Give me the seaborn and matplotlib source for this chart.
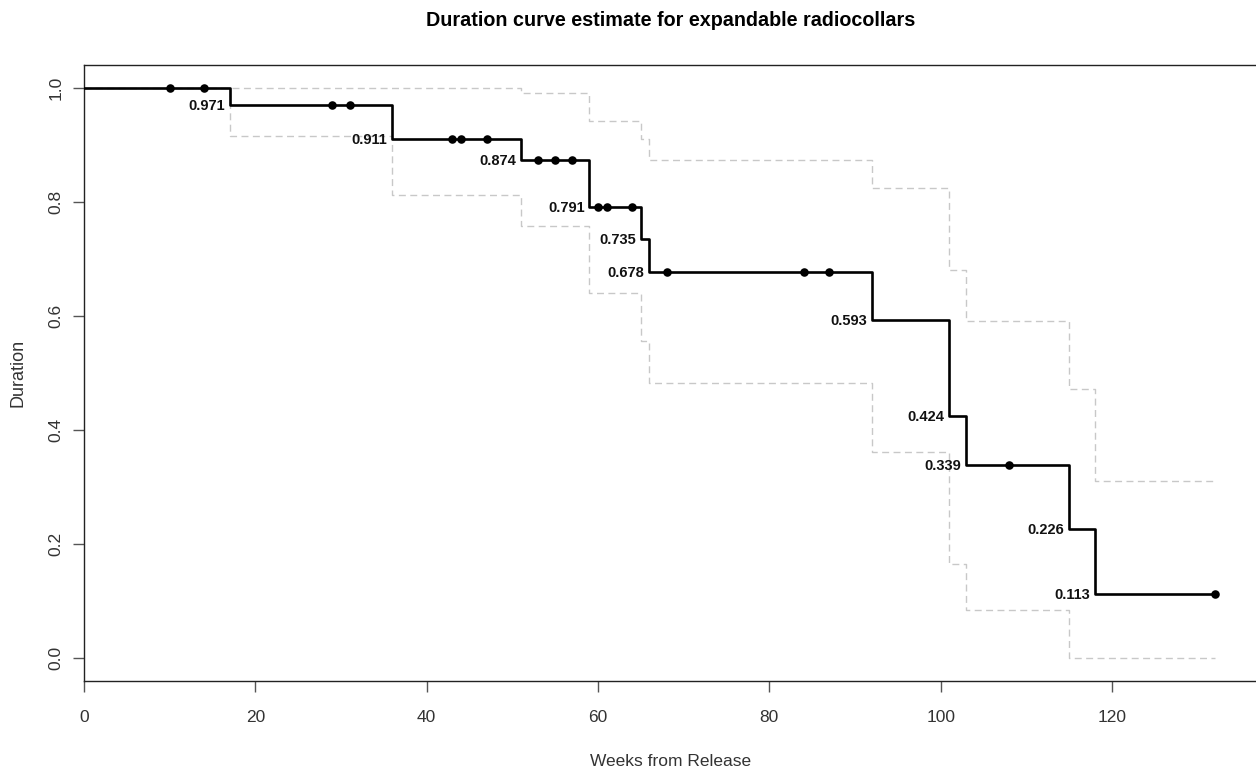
import numpy as np
import pandas as pd
import matplotlib
matplotlib.use("Agg")
import matplotlib.pyplot as plt
import seaborn as sns

# ---- data ----
event_times = [0, 17, 36, 51, 59, 65, 66, 92, 101, 103, 115, 118]
survival    = [1.0, 0.971, 0.911, 0.874, 0.791, 0.735, 0.678, 0.593, 0.424, 0.339, 0.226, 0.113]
upper_ci    = [1.0, 1.0, 1.0, 0.991, 0.943, 0.910, 0.873, 0.824, 0.681, 0.592, 0.472, 0.311]
lower_ci    = [1.0, 0.916, 0.813, 0.758, 0.640, 0.557, 0.482, 0.361, 0.165, 0.084, 0.0, 0.0]
end_time = 132
censor_times = [10, 14, 29, 31, 43, 44, 47, 53, 55, 57, 60, 61, 64, 68, 84, 87, 108, 132]
x_ticks = [0, 20, 40, 60, 80, 100, 120]
y_ticks = [0.0, 0.2, 0.4, 0.6, 0.8, 1.0]
title = "Duration curve estimate for expandable radiocollars"
xlabel = "Weeks from Release"
ylabel = "Duration"

sns.set_theme(style="white")
plt.rcParams["font.family"] = ["Liberation Sans", "DejaVu Sans"]

W, H = 1256, 773
fig = plt.figure(figsize=(W / 100, H / 100), dpi=100)
left_px, top_px, bottom_px = 84, 65, 681
xmax = 137.0
px_per_unit = (1112 - 84) / 120.0
right_px = left_px + xmax * px_per_unit
ax = fig.add_axes([left_px / W, 1 - bottom_px / H, (right_px - left_px) / W, (bottom_px - top_px) / H])

# step data frames
t_full = event_times + [end_time]
df_s = pd.DataFrame({"t": t_full, "s": survival + [survival[-1]]})
df_u = pd.DataFrame({"t": t_full, "s": upper_ci + [upper_ci[-1]]})
df_l = pd.DataFrame({"t": t_full, "s": lower_ci + [lower_ci[-1]]})

dash_col = "#c8c8c8"
for d in (df_u, df_l):
    sns.lineplot(data=d, x="t", y="s", ax=ax, drawstyle="steps-post", color=dash_col,
                 linewidth=1.0, linestyle=(0, (5, 3.2)), estimator=None, sort=False, zorder=2)
sns.lineplot(data=df_s, x="t", y="s", ax=ax, drawstyle="steps-post", color="black",
             linewidth=1.9, estimator=None, sort=False, zorder=3)

# censor marks
idx = np.searchsorted(event_times, censor_times, side="right") - 1
cens_s = [survival[i] for i in idx]
df_c = pd.DataFrame({"t": censor_times, "s": cens_s})
sns.scatterplot(data=df_c, x="t", y="s", ax=ax, color="black", s=38, edgecolor="black",
                linewidth=0, zorder=4)

# labels of the survival estimate at each event
for t, s in zip(event_times[1:], survival[1:]):
    ax.annotate(f"{s:.3f}", xy=(t, s), xytext=(-3.5, -0.8), textcoords="offset points",
                ha="right", va="center", fontsize=10.5, fontweight="bold", color="#111111")

ax.set_xlim(0, xmax)
ax.set_ylim(-0.0404, 1.0404)
ax.set_xticks(x_ticks)
ax.set_xticklabels([str(v) for v in x_ticks])
ax.set_yticks(y_ticks)
ax.set_yticklabels([f"{v:.1f}" for v in y_ticks], rotation=90, va="center")
ax.tick_params(axis="both", direction="out", length=8, width=1.0, color="#555555",
               labelcolor="#333333", labelsize=12.5, left=True, bottom=True)
ax.tick_params(axis="x", pad=13)
ax.tick_params(axis="y", pad=7)
for sp in ax.spines.values():
    sp.set_color("#222222")
    sp.set_linewidth(1.0)
    sp.set_visible(True)

ax.set_xlabel(xlabel, fontsize=12.5, color="#333333")
ax.xaxis.set_label_coords((671 - left_px) / (right_px - left_px), (bottom_px - 762) / (bottom_px - top_px))
ax.xaxis.label.set_va("center")
ax.set_ylabel(ylabel, fontsize=13, color="#333333")
ax.yaxis.set_label_coords((18 - left_px) / (right_px - left_px), 0.5)
ax.yaxis.label.set_va("center")

fig.text(671 / W, 1 - 21 / H, title, ha="center", va="center", fontsize=14.2,
         fontweight="bold", color="black")

fig.savefig("out.png", dpi=100, facecolor="white")
